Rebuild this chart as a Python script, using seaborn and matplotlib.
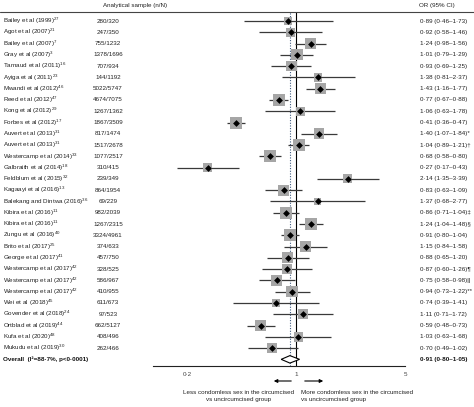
import numpy as np
import pandas as pd
import seaborn as sns
import matplotlib.pyplot as plt
import matplotlib.transforms as mtransforms
from matplotlib.lines import Line2D

studies = ["Bailey et al (1999)", "Agot et al (2007)", "Bailey et al (2007)", "Gray et al (2007)",
           "Tarnaud et al (2011)", "Ayiga et al (2011)", "Mwandi et al (2012)", "Reed et al (2012)",
           "Kong et al (2012)", "Forbes et al (2012)", "Auvert et al (2013)", "Auvert et al (2013)",
           "Westercamp et al (2014)", "Galbraith et al (2014)", "Feldblum et al (2015)",
           "Kagaayi et al (2016)", "Balekang and Dintwa (2016)", "Kibira et al (2016)",
           "Kibira et al (2016)", "Zungu et al (2016)", "Brito et al (2017)", "George et al (2017)",
           "Westercamp et al (2017)", "Westercamp et al (2017)", "Westercamp et al (2017)",
           "Wei et al (2018)", "Govender et al (2018)", "Ortblad et al (2019)", "Kufa et al (2020)",
           "Mukudu et al (2019)"]
refs = ["27", "21", "7", "3", "16", "23", "46", "47", "29", "17", "31", "31", "33", "18", "32",
        "13", "36", "11", "11", "40", "25", "41", "42", "42", "42", "45", "24", "44", "48", "30"]
samples = ["280/320", "247/350", "755/1232", "1378/1696", "707/934", "144/1192", "5022/5747",
           "4674/7075", "1267/1362", "1867/3509", "817/1474", "1517/2678", "1077/2517", "310/415",
           "239/349", "864/1954", "69/229", "982/2039", "1267/2315", "3324/4961", "374/633",
           "457/750", "328/525", "586/967", "410/955", "611/673", "97/523", "662/5127",
           "408/496", "262/466"]
odds = [0.89, 0.92, 1.24, 1.01, 0.93, 1.38, 1.43, 0.77, 1.06, 0.41, 1.40, 1.04, 0.68, 0.27, 2.14,
        0.83, 1.37, 0.86, 1.24, 0.91, 1.15, 0.88, 0.87, 0.75, 0.94, 0.74, 1.11, 0.59, 1.03, 0.70]
lower = [0.46, 0.58, 0.98, 0.79, 0.69, 0.81, 1.16, 0.67, 0.63, 0.36, 1.07, 0.89, 0.58, 0.17, 1.35,
         0.63, 0.68, 0.71, 1.04, 0.80, 0.84, 0.65, 0.60, 0.58, 0.73, 0.39, 0.71, 0.48, 0.63, 0.49]
upper = [1.73, 1.46, 1.56, 1.29, 1.25, 2.37, 1.77, 0.88, 1.78, 0.47, 1.84, 1.21, 0.80, 0.43, 3.39,
         1.09, 2.77, 1.04, 1.48, 1.04, 1.58, 1.20, 1.26, 0.98, 1.22, 1.41, 1.72, 0.73, 1.68, 1.02]
notes = [""] * 10 + ["*", "†"] + [""] * 5 + ["‡", "§"] + [""] * 3 + ["¶", "||", "**"] + [""] * 5
# estimated study weights (%)
weights = [2.4, 2.9, 3.6, 3.6, 3.4, 2.6, 3.7, 4.0, 2.8, 4.0, 3.4, 3.9, 3.9, 2.6, 2.7,
           3.5, 2.2, 3.8, 3.8, 4.0, 3.4, 3.4, 3.2, 3.5, 3.6, 2.2, 3.0, 3.7, 2.9, 3.1]
overall_or, overall_lo, overall_hi = 0.91, 0.80, 1.05
overall_label = "Overall  (I²=88·7%, p<0·0001)"

W, H = 474, 407
TXT = "#222222"
FS = 4.5

def fmt(v):
    return f"{v:.2f}".replace(".", "·")

def main():
    sns.set_style("white")
    plt.rcParams['font.family'] = ['Liberation Sans', 'DejaVu Sans']
    plt.rcParams['mathtext.fontset'] = 'custom'
    plt.rcParams['mathtext.rm'] = 'Liberation Sans'

    df = pd.DataFrame({'study': studies, 'or_': odds, 'lo': lower, 'hi': upper,
                       'w': weights, 'row': np.arange(len(studies))})
    n = len(df)

    fig = plt.figure(figsize=(W / 100, H / 100), dpi=100)
    ax = fig.add_axes([153 / W, (H - 366) / H, 252 / W, 354 / H])
    ax.set_xscale('log')
    ax.set_xlim(0.12, 5)
    ax.set_ylim(n + 0.59, -0.8)

    ax.axvline(1, color='black', lw=0.8, zorder=1)
    ax.axvline(overall_or, color='#3d5a80', lw=0.8, ls=(0, (1, 1.4)), zorder=1)

    ax.hlines(df['row'], df['lo'], df['hi'], color='#3a3a3a', lw=0.9, zorder=2)
    sns.scatterplot(data=df, x='or_', y='row', size='w', sizes=(28, 75), size_norm=(2.2, 4.0),
                    marker='s', color='#a6a6a6', linewidth=0, legend=False, ax=ax, zorder=3)
    sns.scatterplot(data=df, x='or_', y='row', marker='D', s=12, color='black', linewidth=0,
                    legend=False, ax=ax, zorder=4)

    # overall diamond
    yo = n
    ax.fill([overall_lo, overall_or, overall_hi, overall_or], [yo, yo - 0.33, yo, yo + 0.33],
            facecolor='white', edgecolor='black', lw=0.8, zorder=5)

    for s in ['top', 'right', 'left']:
        ax.spines[s].set_visible(False)
    ax.spines['bottom'].set_linewidth(0.8)
    ax.spines['bottom'].set_color('#222222')
    ax.set_yticks([])
    ax.set_xticks([0.2, 1, 5])
    ax.set_xticklabels(['0·2', '1', '5'])
    ax.xaxis.set_minor_locator(plt.NullLocator())
    ax.tick_params(axis='x', length=3, width=0.8, labelsize=FS, pad=1.5, colors='#222222',
                   labelcolor='#444444')
    ax.set_xlabel('')
    ax.set_ylabel('')

    trans = mtransforms.blended_transform_factory(fig.transFigure, ax.transData)
    for i in range(n):
        ax.text(3 / W, i, f"{studies[i]}$^{{{refs[i]}}}$", transform=trans, fontsize=FS,
                va='center', ha='left', color=TXT, clip_on=False)
        ax.text(108 / W, i, samples[i], transform=trans, fontsize=FS, va='center',
                ha='center', color=TXT, clip_on=False)
        ax.text(420 / W, i, f"{fmt(odds[i])} ({fmt(lower[i])}–{fmt(upper[i])}){notes[i]}",
                transform=trans, fontsize=FS, va='center', ha='left', color=TXT, clip_on=False)
    ax.text(3 / W, n, overall_label, transform=trans, fontsize=FS, fontweight='bold',
            va='center', ha='left', color='#111111', clip_on=False)
    ax.text(420 / W, n, f"{fmt(overall_or)} ({fmt(overall_lo)}–{fmt(overall_hi)})",
            transform=trans, fontsize=FS, fontweight='bold', va='center', ha='left',
            color='#111111', clip_on=False)

    # header
    fig.text(103 / W, 1 - 5 / H, "Analytical sample (n/N)", fontsize=FS, va='center',
             ha='left', color=TXT)
    fig.text(419 / W, 1 - 5 / H, "OR (95% CI)", fontsize=FS, va='center', ha='left', color=TXT)
    fig.add_artist(Line2D([0, 1], [1 - 12 / H] * 2, transform=fig.transFigure,
                          color='#444444', lw=0.8))

    # direction arrows and captions
    ya = 1 - 381 / H
    fig.add_artist(plt.Annotation('', xy=(271 / W, ya), xytext=(294 / W, ya),
                                  xycoords='figure fraction', textcoords='figure fraction',
                                  arrowprops=dict(arrowstyle='-|>', color='black', lw=0.8,
                                                  mutation_scale=5)))
    fig.add_artist(plt.Annotation('', xy=(326 / W, ya), xytext=(302 / W, ya),
                                  xycoords='figure fraction', textcoords='figure fraction',
                                  arrowprops=dict(arrowstyle='-|>', color='black', lw=0.8,
                                                  mutation_scale=5)))
    fig.text(294 / W, 1 - 396 / H, "Less condomless sex in the circumcised\nvs uncircumcised group",
             fontsize=FS, ha='right', va='center', multialignment='center', color=TXT,
             linespacing=1.35)
    fig.text(301 / W, 1 - 396 / H, "More condomless sex in the circumcised\nvs uncircumcised group",
             fontsize=FS, ha='left', va='center', multialignment='left', color=TXT,
             linespacing=1.35)

    fig.savefig('out.png', dpi=100)

if __name__ == '__main__':
    main()
